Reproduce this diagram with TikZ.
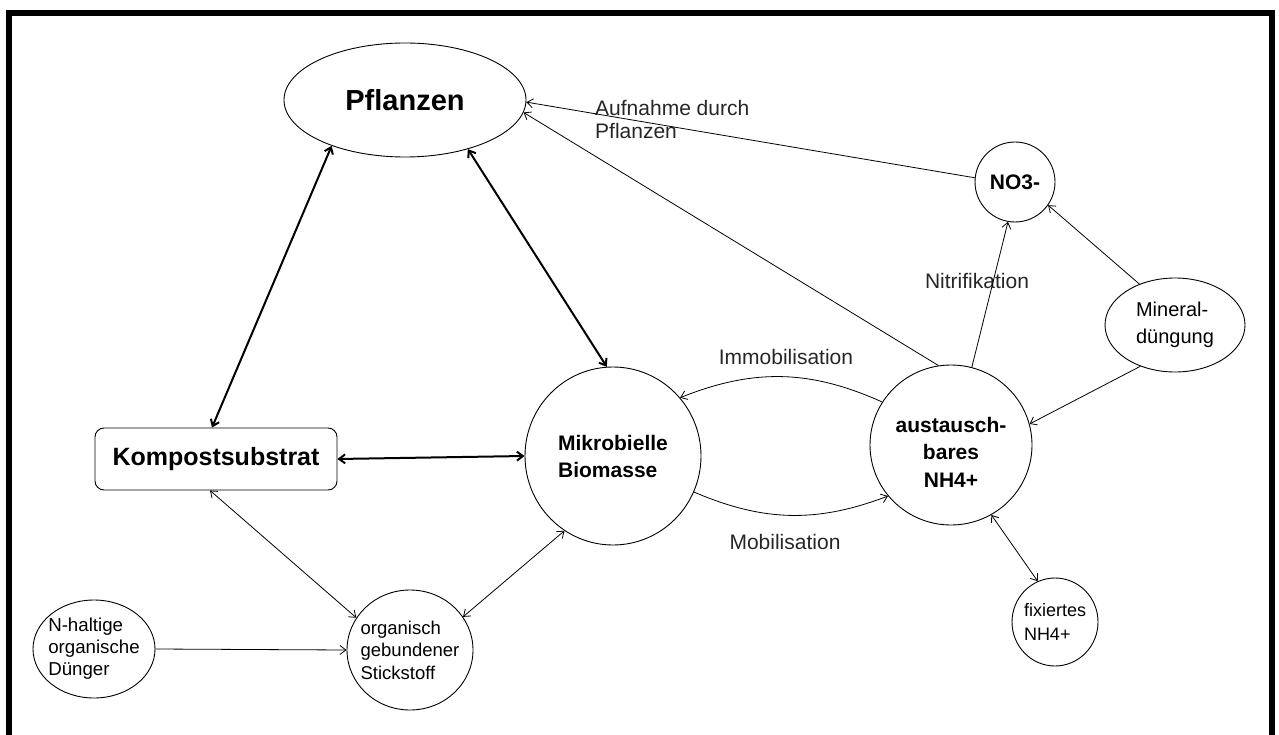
\documentclass[tikz,border=0pt]{standalone}
\usepackage{fontspec}
\setmainfont{Liberation Sans}
\usetikzlibrary{shapes.geometric,arrows.meta}
\begin{document}
\begin{tikzpicture}[x=1pt,y=-1pt,
  ell/.style={ellipse,draw,line width=0.9pt,inner sep=0pt},
  txt/.style={align=left,inner sep=0pt},
  tip/.tip={Straight Barb[length=6pt,width=9pt]},
  one/.style={draw,line width=0.8pt,-tip},
  two/.style={draw,line width=0.8pt,tip-tip},
  thk/.style={draw,line width=2pt,{Straight Barb[length=6pt,width=9pt]}-{Straight Barb[length=6pt,width=9pt]}},
  lbl/.style={font=\fontsize{21}{24}\selectfont,text=black!85,inner sep=0pt}
]
\useasboundingbox (0,0) rectangle (1279,735);
\clip (0,0) rectangle (1279,735);
\draw[line width=6pt] (9,13) rectangle (1272,800);

% nodes
\node[ell,minimum width=242pt,minimum height=114pt,
  label={[name=pflT,txt,font=\bfseries\fontsize{29}{34}\selectfont]center:Pflanzen}] (pfl) at (405,100) {};
\node[draw,rounded corners=9pt,line width=0.9pt,minimum width=242pt,minimum height=62pt,inner sep=0pt,
  font=\bfseries\fontsize{25}{30}\selectfont] (kom) at (216,459) {Kompostsubstrat};
\node[ell,minimum width=176pt,minimum height=178pt,
  label={[name=mikT,txt,font=\bfseries\fontsize{21}{27}\selectfont]center:Mikrobielle\\Biomasse}] (mik) at (613,456) {};
\node[ell,minimum width=162pt,minimum height=160pt,
  label={[name=ausT,txt,align=center,yshift=-7pt,font=\bfseries\fontsize{21}{27.5}\selectfont]center:austausch-\\bares\\NH4+}] (aus) at (951,445) {};
\node[ell,minimum width=80pt,minimum height=80pt,
  label={[name=no3T,txt,font=\bfseries\fontsize{21}{25}\selectfont]center:NO3-}] (no3) at (1015,182) {};
\node[ell,minimum width=140pt,minimum height=94pt,
  label={[name=minT,txt,font=\fontsize{20}{27}\selectfont]center:Mineral-\\düngung}] (min) at (1175,325) {};
\node[ell,minimum width=86pt,minimum height=88pt,
  label={[name=fixT,txt,font=\fontsize{18}{24}\selectfont]center:fixiertes\\NH4+}] (fix) at (1055,622) {};
\node[ell,minimum width=122pt,minimum height=98pt,
  label={[name=nhT,txt,font=\fontsize{18.7}{22}\selectfont]center:N-haltige\\organische\\Dünger}] (nhal) at (94,649) {};
\node[ell,minimum width=126pt,minimum height=120pt,
  label={[name=orgT,txt,font=\fontsize{18.5}{22.5}\selectfont]center:organisch\\gebundener\\Stickstoff}] (org) at (410,650) {};

% labels
\node[lbl] (tImmo) at (786,357) {Immobilisation};
\node[lbl] (tMob) at (785,542) {Mobilisation};
\node[lbl] (tNit) at (977,281) {Nitrifikation};
\node[lbl,align=left,anchor=west,font=\fontsize{21}{23}\selectfont] (tAuf) at (595,119) {Aufnahme durch\\Pflanzen};

% connectors
\draw[thk] (pfl.212) -- ([xshift=-4pt]kom.north);
\draw[thk] (pfl.322) -- (mik.94);
\draw[thk] (kom.east) -- (mik.west);
\draw[two] ([xshift=-6pt]kom.south) -- (org.149);
\draw[two] (mik.237) -- (org.32);
\draw[one] (nhal.east) -- (org.west);
\draw[one] (aus.148) to[bend right=23] (mik.41);
\draw[one] (mik.336) to[bend right=22] (aus.219);
\draw[one] (aus.99) -- (pfl.354);
\draw[one] (no3.174) -- (pfl.359);
\draw[one] (aus.75) -- (no3.260);
\draw[one] (min.131) -- (no3.325);
\draw[one] (min.230) -- (aus.15);
\draw[two] (aus.300) -- (fix.113);
\end{tikzpicture}
\end{document}
